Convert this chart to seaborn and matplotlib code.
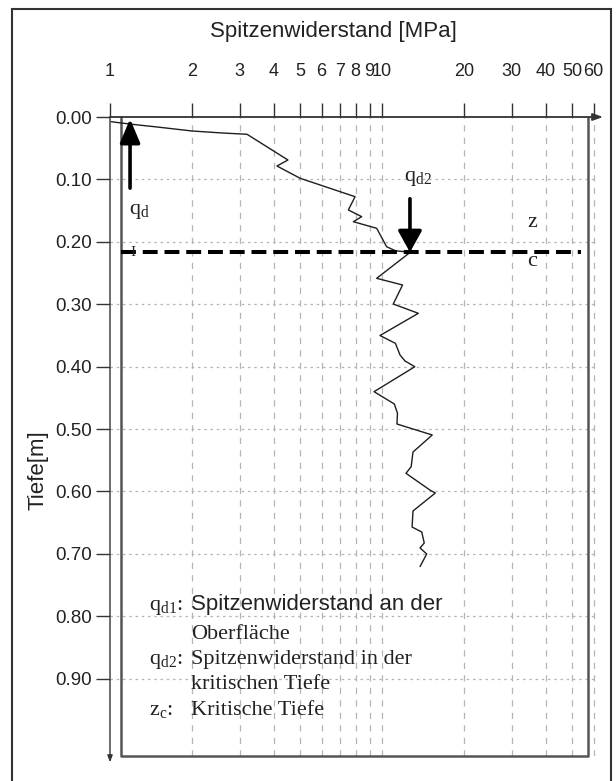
import matplotlib
matplotlib.use("Agg")
import matplotlib.pyplot as plt
import seaborn as sns
import pandas as pd
from matplotlib.ticker import NullLocator, FixedLocator
from matplotlib.patches import Rectangle

# ---------------- data ----------------
depth_m = [0.0075, 0.0096, 0.0128, 0.0160, 0.0224, 0.0256, 0.0277, 0.0689, 0.0785,
           0.0982, 0.1277, 0.1490, 0.1597, 0.1678, 0.1784, 0.2079, 0.2143, 0.2168,
           0.2585, 0.2692, 0.2997, 0.3146, 0.3502, 0.3627, 0.3814, 0.3910, 0.4002,
           0.4402, 0.4599, 0.4748, 0.4920, 0.5096, 0.5369, 0.5604, 0.5710, 0.5978,
           0.6026, 0.6314, 0.6571, 0.6651, 0.6827, 0.6907, 0.7003, 0.7204]
resistance_mpa = [1.01, 1.10, 1.27, 1.49, 2.00, 2.58, 3.19, 4.51, 4.11,
                  5.00, 7.96, 7.52, 8.42, 7.85, 9.56, 10.4, 11.2, 12.7,
                  9.56, 11.9, 11.0, 13.6, 9.83, 11.2, 11.65, 12.15, 13.2,
                  9.35, 11.1, 11.4, 11.35, 15.3, 13.0, 12.8, 12.25, 15.0,
                  15.7, 13.0, 12.9, 14.0, 14.3, 13.8, 14.6, 13.8]

x_ticks = [1, 2, 3, 4, 5, 6, 7, 8, 9, 10, 20, 30, 40, 50, 60]
x_tick_labels = ["1", "2", "3", "4", "5", "6", "7", "8", "9", "10", "20", "30", "40", "50", "60"]
y_ticks = [0.0, 0.1, 0.2, 0.3, 0.4, 0.5, 0.6, 0.7, 0.8, 0.9]
y_tick_labels = ["0.00", "0.10", "0.20", "0.30", "0.40", "0.50", "0.60", "0.70", "0.80", "0.90"]

qd1_value = 1.185       # arrow at the surface
qd1_depth_range = (0.114, 0.003)
qd2_value = 12.67       # arrow at critical depth
critical_depth = 0.2168
qd2_start_depth = 0.131

title = "Spitzenwiderstand [MPa]"
ylabel = "Tiefe[m]"

# ---------------- layout helpers ----------------
W, H = 616, 781
def fx(px):
    return px / W
def fy(py):
    return 1 - py / H

sns.set_style("white")
plt.rcParams["font.family"] = ["Liberation Sans", "DejaVu Sans"]
SERIF = ["Liberation Serif", "DejaVu Serif"]
AXC = "#333333"
GRIDC = "#b5b5b5"

fig = plt.figure(figsize=(6.16, 7.81), dpi=100)
ax = fig.add_axes([fx(110), fy(756), fx(603) - fx(110), fy(117) - fy(756)])
ax.set_xscale("log")
xmax = 10 ** (493 / 272)
ymax = (756 - 117) / 624
ax.set_xlim(1, xmax)
ax.set_ylim(ymax, 0)
ax.set_facecolor("white")
for s in ax.spines.values():
    s.set_visible(False)

# grid
for xv in x_ticks[1:]:
    ax.axvline(xv, color=GRIDC, lw=0.9, ls=(0, (5, 5)), zorder=1)
ax.hlines(y_ticks[1:], 1, 60, colors=GRIDC, lw=0.9, linestyles=(0, (2, 3)), zorder=1)

# plot frame (box)
box_left, box_right = 1.098, 57.2
ax.plot([box_left, box_left, box_right, box_right], [0, ymax, ymax, 0],
        color="#555555", lw=1.8, zorder=2, clip_on=False)

# axes with arrows
ax.annotate("", xy=(1, 1), xytext=(0, 1), xycoords="axes fraction",
            arrowprops=dict(arrowstyle="-|>,head_width=0.18,head_length=0.5", lw=1.3,
                            color=AXC, shrinkA=0, shrinkB=0, mutation_scale=12))
ax.annotate("", xy=(0, -0.01), xytext=(0, 1), xycoords="axes fraction",
            arrowprops=dict(arrowstyle="-|>,head_width=0.15,head_length=0.4", lw=1.0,
                            color=AXC, shrinkA=0, shrinkB=0, mutation_scale=10))

# data curve
df = pd.DataFrame({"q": resistance_mpa, "z": depth_m})
sns.lineplot(data=df, x="q", y="z", sort=False, estimator=None, color="#1e1e1e",
             lw=1.0, ax=ax, zorder=4)
ax.set_xlabel("")
ax.set_ylabel("")

# critical depth line
ax.hlines(critical_depth, 1.1, 54, colors="black", lw=2.9,
          linestyles=(0, (3.7, 1.7)), zorder=5)

# arrows
ax.annotate("", xy=(qd1_value, qd1_depth_range[1]), xytext=(qd1_value, qd1_depth_range[0]),
            arrowprops=dict(arrowstyle="-|>,head_width=0.42,head_length=1.0", lw=2.6,
                            color="black", shrinkA=0, shrinkB=0, mutation_scale=14.5),
            zorder=6)
ax.annotate("", xy=(qd2_value, critical_depth), xytext=(qd2_value, qd2_start_depth),
            arrowprops=dict(arrowstyle="-|>,head_width=0.5,head_length=0.9", lw=2.6,
                            color="black", shrinkA=0, shrinkB=0, mutation_scale=14.5),
            zorder=6)

# ticks
ax.xaxis.tick_top()
ax.xaxis.set_major_locator(FixedLocator(x_ticks))
ax.xaxis.set_minor_locator(NullLocator())
ax.set_xticklabels(x_tick_labels)
ax.set_yticks(y_ticks)
ax.set_yticklabels(y_tick_labels)
ax.yaxis.set_minor_locator(NullLocator())
ax.tick_params(axis="x", which="major", direction="out", length=10, width=1.0,
               color=AXC, pad=17, labelsize=13, labelcolor="#222222",
               top=True, bottom=False)
ax.tick_params(axis="y", which="major", direction="out", length=10, width=1.0,
               color=AXC, pad=3, labelsize=13.5, labelcolor="#222222", left=True)

# titles
fig.text(fx(333), fy(31), title, ha="center", va="center", fontsize=16, color="#222222")
fig.text(fx(38), fy(470), ylabel, ha="center", va="center", rotation=90, fontsize=16,
         color="#222222")

# in-plot annotations
tk = dict(family=SERIF, color="#222222")
fig.text(fx(129), fy(214), r"$\mathregular{q_d}$", fontsize=16, ha="left", va="baseline", **tk)
fig.text(fx(404), fy(181), r"$\mathregular{q_{d2}}$", fontsize=16, ha="left", va="baseline", **tk)
fig.text(fx(527), fy(227), "z", fontsize=16, ha="left", va="baseline", **tk)
fig.text(fx(527), fy(266), "c", fontsize=16, ha="left", va="baseline", **tk)
fig.text(fx(130), fy(256), "I", fontsize=11, ha="left", va="baseline", **tk)

# legend block
fig.text(fx(149), fy(610), r"$\mathregular{q_{d1}}$:", fontsize=16, ha="left", va="baseline", **tk)
fig.text(fx(191), fy(610), "Spitzenwiderstand an der", fontsize=16, ha="left",
         va="baseline", color="#222222")
fig.text(fx(191), fy(639), "Oberfläche", fontsize=16, ha="left", va="baseline", **tk)
fig.text(fx(149), fy(664), r"$\mathregular{q_{d2}}$:", fontsize=16, ha="left", va="baseline", **tk)
fig.text(fx(191), fy(664), "Spitzenwiderstand in der", fontsize=16, ha="left", va="baseline", **tk)
fig.text(fx(191), fy(689), "kritischen Tiefe", fontsize=16, ha="left", va="baseline", **tk)
fig.text(fx(149), fy(715), r"$\mathregular{z_{c}}$:", fontsize=16, ha="left", va="baseline", **tk)
fig.text(fx(191), fy(715), "Kritische Tiefe", fontsize=16, ha="left", va="baseline", **tk)

# outer frame
fig.patches.append(Rectangle((fx(12), fy(790)), fx(611) - fx(12), fy(9) - fy(790),
                             transform=fig.transFigure, fill=False, ec="#333333", lw=1.5))

fig.savefig("out.png", dpi=100)
